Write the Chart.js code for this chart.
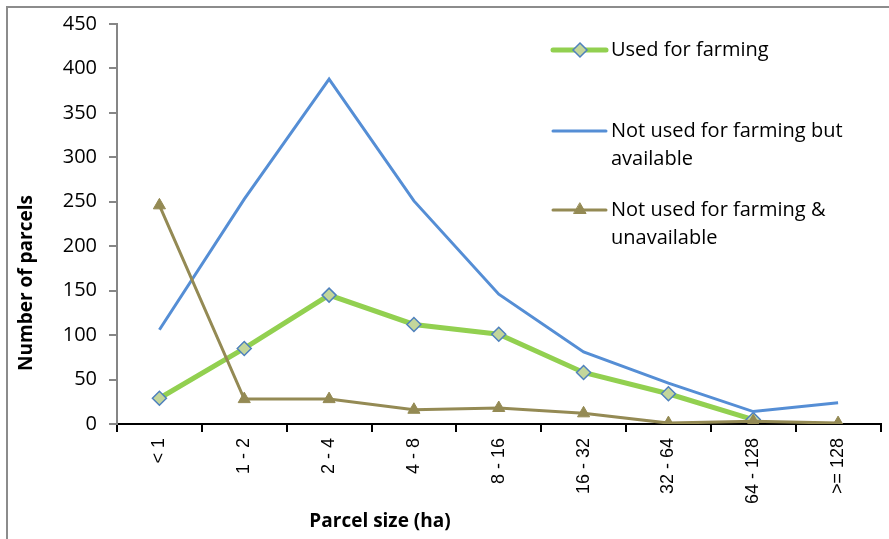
<!DOCTYPE html>
<html>
<head>
<meta charset="utf-8">
<script src="https://cdn.jsdelivr.net/npm/chart.js@4"></script>
<style>
  html, body { margin: 0; padding: 0; background: #fff; overflow: hidden; }
  #wrap { position: absolute; left: 0; top: 0; width: 889px; height: 539px; }
</style>
</head>
<body>
<div id="wrap"><canvas id="myChart" width="889" height="539"></canvas></div>
<script>
// Datos del gráfico
const categorias = ["< 1", "1 - 2", "2 - 4", "4 - 8", "8 - 16", "16 - 32", "32 - 64", "64 - 128", ">= 128"];
const usadoAgricultura = [29, 85, 145, 112, 101, 58, 34, 5, null];
const noUsadoDisponible = [106, 253, 388, 251, 146, 81, 46, 14, 24];
const noUsadoNoDisponible = [246, 28, 28, 16, 18, 12, 1, 3, 1];
const nombresSeries = [
  ["Used for farming"],
  ["Not used for farming but", "available"],
  ["Not used for farming &", "unavailable"]
];

const fuente = "'Open Sans', Lato, sans-serif";

// Leyenda y títulos dibujados a mano (para colocar como en el original)
const extras = {
  id: 'extras',
  afterDraw(chart) {
    const ctx = chart.ctx;
    ctx.save();
    // marco
    ctx.strokeStyle = '#8c8c8c';
    ctx.lineWidth = 2;
    ctx.beginPath();
    ctx.moveTo(7, 600);
    ctx.lineTo(7, 7);
    ctx.lineTo(900, 7);
    ctx.stroke();

    // títulos de ejes
    ctx.fillStyle = '#000';
    ctx.font = "bold 19px " + fuente;
    ctx.textAlign = 'center';
    ctx.textBaseline = 'middle';
    ctx.fillText("Parcel size (ha)", 380, 522);
    ctx.translate(27, 283);
    ctx.rotate(-Math.PI / 2);
    ctx.fillText("Number of parcels", 0, 0);
    ctx.restore();

    // leyenda
    ctx.save();
    const ys = [50, 131, 210];
    const ds = [chart.data.datasets[2], chart.data.datasets[1], chart.data.datasets[0]];
    ds.forEach((d, i) => {
      const y = ys[i];
      ctx.strokeStyle = d.borderColor;
      ctx.lineWidth = d.borderWidth;
      ctx.lineCap = 'round';
      ctx.beginPath();
      ctx.moveTo(553, y);
      ctx.lineTo(606, y);
      ctx.stroke();
      if (d.pointStyle) {
        ctx.fillStyle = d.pointBackgroundColor;
        ctx.strokeStyle = d.pointBorderColor;
        ctx.lineWidth = d.pointBorderWidth;
        drawMarca(ctx, d.pointStyle, d.pointRadius, 580, y);
      }
      ctx.fillStyle = '#000';
      ctx.font = "20px " + fuente;
      ctx.textAlign = 'left';
      ctx.textBaseline = 'middle';
      nombresSeries[i].forEach((linea, j) => {
        ctx.fillText(linea, 611, y + j * 28);
      });
    });
    ctx.restore();
  }
};

function drawMarca(ctx, estilo, r, x, y) {
  ctx.beginPath();
  if (estilo === 'rectRot') {
    ctx.moveTo(x, y - r);
    ctx.lineTo(x + r, y);
    ctx.lineTo(x, y + r);
    ctx.lineTo(x - r, y);
  } else {
    ctx.moveTo(x, y - r);
    ctx.lineTo(x + r * 0.87, y + r * 0.5);
    ctx.lineTo(x - r * 0.87, y + r * 0.5);
  }
  ctx.closePath();
  ctx.fill();
  ctx.stroke();
}

const ctx = document.getElementById('myChart').getContext('2d');
const chart = new Chart(ctx, {
  type: 'line',
  data: {
    labels: categorias,
    datasets: [
      {
        label: "Not used for farming & unavailable",
        data: noUsadoNoDisponible,
        borderColor: '#948A54',
        backgroundColor: '#948A54',
        borderWidth: 3,
        pointStyle: 'triangle',
        pointRadius: 7,
        pointBackgroundColor: '#948A54',
        pointBorderColor: '#948A54',
        pointBorderWidth: 1,
        order: 0
      },
      {
        label: "Not used for farming but available",
        data: noUsadoDisponible,
        borderColor: '#558ED5',
        backgroundColor: '#558ED5',
        borderWidth: 3,
        pointRadius: 0,
        pointStyle: false,
        order: 1
      },
      {
        label: "Used for farming",
        data: usadoAgricultura,
        borderColor: '#92D050',
        backgroundColor: '#C3D69B',
        borderWidth: 5,
        pointStyle: 'rectRot',
        pointRadius: 7,
        pointBackgroundColor: '#C3D69B',
        pointBorderColor: '#4F81BD',
        pointBorderWidth: 1.5,
        order: 2
      }
    ]
  },
  options: {
    responsive: false,
    animation: false,
    layout: { padding: { top: 22, right: 8, left: 0, bottom: 0 } },
    plugins: {
      legend: { display: false },
      tooltip: { enabled: false }
    },
    scales: {
      x: {
        offset: true,
        border: { color: '#000', width: 2 },
        grid: { display: true, drawOnChartArea: false, offset: true, color: '#000', lineWidth: 2, tickLength: 8 },
        ticks: {
          color: '#000',
          font: { family: "'Liberation Sans', Arial, sans-serif", size: 18 },
          minRotation: 90,
          maxRotation: 90,
          padding: 6,
          autoSkip: false
        },
        afterFit(scale) { scale.height = 115; }
      },
      y: {
        min: 0,
        max: 450,
        border: { color: '#868686', width: 2 },
        grid: { display: true, drawOnChartArea: false, color: '#868686', lineWidth: 2, tickLength: 8 },
        ticks: {
          stepSize: 50,
          color: '#000',
          font: { family: fuente, size: 20 },
          padding: 12
        },
        afterFit(scale) { scale.width = 117; }
      }
    }
  },
  plugins: [extras]
});
</script>
</body>
</html>
